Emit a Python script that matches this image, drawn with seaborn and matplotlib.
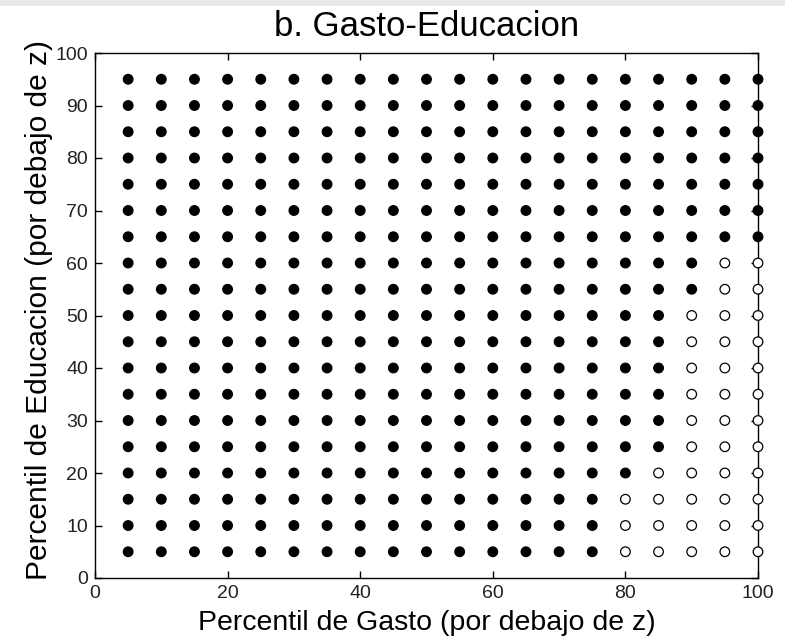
import numpy as np
import pandas as pd
import matplotlib
matplotlib.use("Agg")
import matplotlib.pyplot as plt
import seaborn as sns
from matplotlib.patches import Rectangle

# Percentile grid (expenditure on x, education on y)
gasto_pct = [5, 10, 15, 20, 25, 30, 35, 40, 45, 50, 55, 60, 65, 70, 75, 80, 85, 90, 95, 100]
educ_pct = [5, 10, 15, 20, 25, 30, 35, 40, 45, 50, 55, 60, 65, 70, 75, 80, 85, 90, 95]
# First expenditure percentile in each education row where the point is open (None: all filled)
open_from = [80, 80, 80, 85, 90, 90, 90, 90, 90, 90, 95, 95,
             None, None, None, None, None, None, None]

x_ticks = [0, 20, 40, 60, 80, 100]
y_ticks = [0, 10, 20, 30, 40, 50, 60, 70, 80, 90, 100]

rows = []
for yv, thr in zip(educ_pct, open_from):
    for xv in gasto_pct:
        status = "open" if (thr is not None and xv >= thr) else "filled"
        rows.append({"gasto": xv, "educ": yv, "status": status})
df = pd.DataFrame(rows)

sns.set_theme(style="white")
plt.rcParams["font.family"] = ["Liberation Sans", "DejaVu Sans"]

fig = plt.figure(figsize=(7.85, 6.44), dpi=100)
fig.patch.set_facecolor("white")
fig.patches.append(Rectangle((0, 1 - 6 / 644), 1, 6 / 644, transform=fig.transFigure,
                             facecolor="#e8e8e8", edgecolor="none", zorder=0))

ax = fig.add_axes([95 / 785, 66 / 644, (758 - 95) / 785, (578 - 53) / 644])

sns.scatterplot(data=df, x="gasto", y="educ", hue="status",
                palette={"filled": "black", "open": "white"},
                edgecolor="black", linewidth=0.9, s=48, marker="o",
                legend=False, ax=ax, clip_on=False, zorder=5)

ax.set_xlim(0, 100)
ax.set_ylim(0, 100)
ax.set_xticks(x_ticks)
ax.set_yticks(y_ticks)
ax.tick_params(direction="in", length=5, width=1, colors="black",
               labelsize=14, top=True, right=True, bottom=True, left=True,
               labelcolor="#222222")
ax.tick_params(axis="x", pad=5)
ax.tick_params(axis="y", pad=5)
for sp in ax.spines.values():
    sp.set_visible(True)
    sp.set_color("black")
    sp.set_linewidth(1.0)

ax.set_xlabel("Percentil de Gasto (por debajo de z)", fontsize=20.5, color="black", labelpad=6)
ax.set_ylabel("Percentil de Educacion (por debajo de z)", fontsize=21.5, color="black")
ax.yaxis.set_label_coords(-0.064, 0.51)
ax.set_title("b. Gasto-Educacion", fontsize=25, color="black", pad=12)

fig.savefig("out.png", dpi=100)
